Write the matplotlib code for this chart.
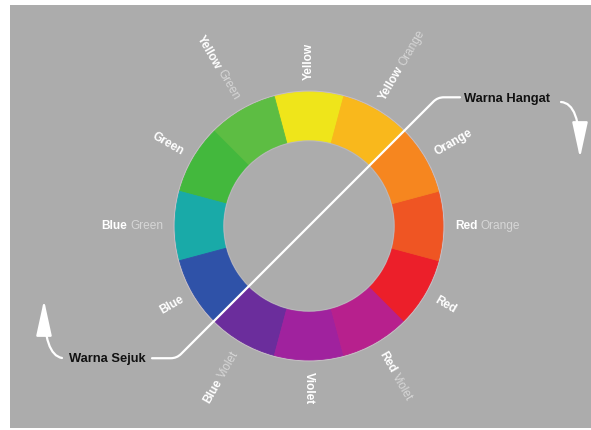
import numpy as np
import matplotlib
matplotlib.use('Agg')
import matplotlib.pyplot as plt
from matplotlib.patches import Rectangle, FancyArrowPatch, Circle, PathPatch
from matplotlib.path import Path

# ---- data ----
hues = ['Yellow', 'Yellow Green', 'Green', 'Blue Green', 'Blue', 'Blue Violet',
        'Violet', 'Red Violet', 'Red', 'Red Orange', 'Orange', 'Yellow Orange']
shares = [1, 1, 1, 1, 1, 1, 1, 1, 1, 1, 1, 1]
colors = ['#efe51a', '#5dbd43', '#43b83d', '#19aaa8', '#2f52a8', '#6b2d9c',
          '#a0229e', '#b7208d', '#ec1f2a', '#ef5523', '#f6861f', '#f9b81c']
warm_label = 'Warna Hangat'
cool_label = 'Warna Sejuk'

# ---- layout ----
W, H = 591, 430
BG = '#acacac'
cx, cy = 309, 204
R_OUT, R_IN = 134, 86
R_LAB = 146

fig = plt.figure(figsize=(W / 100, H / 100), dpi=100, facecolor='white')
ax = fig.add_axes([0, 0, 1, 1])
ax.add_patch(Rectangle((10, 2), 581, 423, facecolor=BG, edgecolor='none', zorder=0))

wedges, _ = ax.pie(shares, colors=colors, startangle=75, counterclock=True,
                   radius=R_OUT, center=(cx, cy),
                   wedgeprops=dict(width=R_OUT - R_IN, linewidth=0.6))
for w, c in zip(wedges, colors):
    w.set_edgecolor(c)
    w.set_zorder(2)

# soft light halo around the ring
ax.add_patch(Circle((cx, cy), R_OUT + 0.8, fill=False, ec='#d9c9d6', lw=1.0, alpha=0.6, zorder=1))
ax.add_patch(Circle((cx, cy), R_IN - 0.8, fill=False, ec='#c9c4cc', lw=0.8, alpha=0.5, zorder=3))

ax.set_xlim(0, W)
ax.set_ylim(0, H)
ax.set_aspect('auto')
ax.axis('off')

renderer = fig.canvas.get_renderer()
FS = 8.6
FAM = ['Liberation Sans', 'DejaVu Sans']


def text_width(s, weight):
    t = ax.text(0, 0, s, fontsize=FS, fontweight=weight, family=FAM)
    w = t.get_window_extent(renderer).width
    t.remove()
    return w


gap = 3
for w, name in zip(wedges, hues):
    ang = (w.theta1 + w.theta2) / 2
    a = (ang + 180) % 360 - 180
    words = name.split()
    prim = words[0]
    sec = words[1] if len(words) > 1 else None
    rad = np.deg2rad(a)
    ux, uy = np.cos(rad), np.sin(rad)
    if -90 <= a <= 90:
        rot = a
        # primary nearest to the wheel, secondary further out
        ax.text(cx + R_LAB * ux, cy + R_LAB * uy, prim, rotation=rot, rotation_mode='anchor',
                ha='left', va='center', fontsize=FS, fontweight='bold', color='white',
                family=FAM, zorder=5)
        if sec:
            r2 = R_LAB + text_width(prim, 'bold') + gap
            ax.text(cx + r2 * ux, cy + r2 * uy, sec, rotation=rot, rotation_mode='anchor',
                    ha='left', va='center', fontsize=FS, color='#d6d6d6',
                    family=FAM, zorder=5)
    else:
        rot = a + 180 if a < 0 else a - 180
        if sec:
            ax.text(cx + R_LAB * ux, cy + R_LAB * uy, sec, rotation=rot, rotation_mode='anchor',
                    ha='right', va='center', fontsize=FS, color='#d6d6d6',
                    family=FAM, zorder=5)
            r1 = R_LAB + text_width(sec, 'normal') + gap
        else:
            r1 = R_LAB
        ax.text(cx + r1 * ux, cy + r1 * uy, prim, rotation=rot, rotation_mode='anchor',
                ha='right', va='center', fontsize=FS, fontweight='bold', color='white',
                family=FAM, zorder=5)

# ---- warm / cool divider ----
u = np.array([1, 1]) / np.sqrt(2)
c = np.array([cx, cy], dtype=float)
P1 = c + 182 * u
P2 = c - 187 * u
k = 6
verts = [(460, P1[1]), (P1[0] + k, P1[1]), tuple(P1), tuple(P1 - k * u),
         tuple(P2 + k * u), tuple(P2), (P2[0] - k, P2[1]), (152, P2[1])]
codes = [Path.MOVETO, Path.LINETO, Path.CURVE3, Path.CURVE3,
         Path.LINETO, Path.CURVE3, Path.CURVE3, Path.LINETO]
ax.add_patch(PathPatch(Path(verts, codes), fill=False, ec='white', lw=1.6,
                       capstyle='round', zorder=4))

ax.text(464, P1[1] - 2, warm_label, ha='left', va='center', fontsize=9.3,
        fontweight='bold', color='#111111', family=FAM, zorder=5)
ax.text(146, P2[1] - 1, cool_label, ha='right', va='center', fontsize=9.3,
        fontweight='bold', color='#111111', family=FAM, zorder=5)

# ---- curved arrows ----
arr_r = Path([(561, 328), (580, 327), (580, 272)], [Path.MOVETO, Path.CURVE3, Path.CURVE3])
ax.add_patch(FancyArrowPatch(path=arr_r, arrowstyle='-|>,head_length=2.2,head_width=0.48',
                             mutation_scale=10, color='white', lw=1.6, shrinkA=0, shrinkB=0,
                             zorder=5))
arr_l = Path([(62, 72), (44, 75), (44, 130)], [Path.MOVETO, Path.CURVE3, Path.CURVE3])
ax.add_patch(FancyArrowPatch(path=arr_l, arrowstyle='-|>,head_length=2.2,head_width=0.48',
                             mutation_scale=10, color='white', lw=1.6, shrinkA=0, shrinkB=0,
                             zorder=5))

fig.savefig('out.png', dpi=100, facecolor='white')
